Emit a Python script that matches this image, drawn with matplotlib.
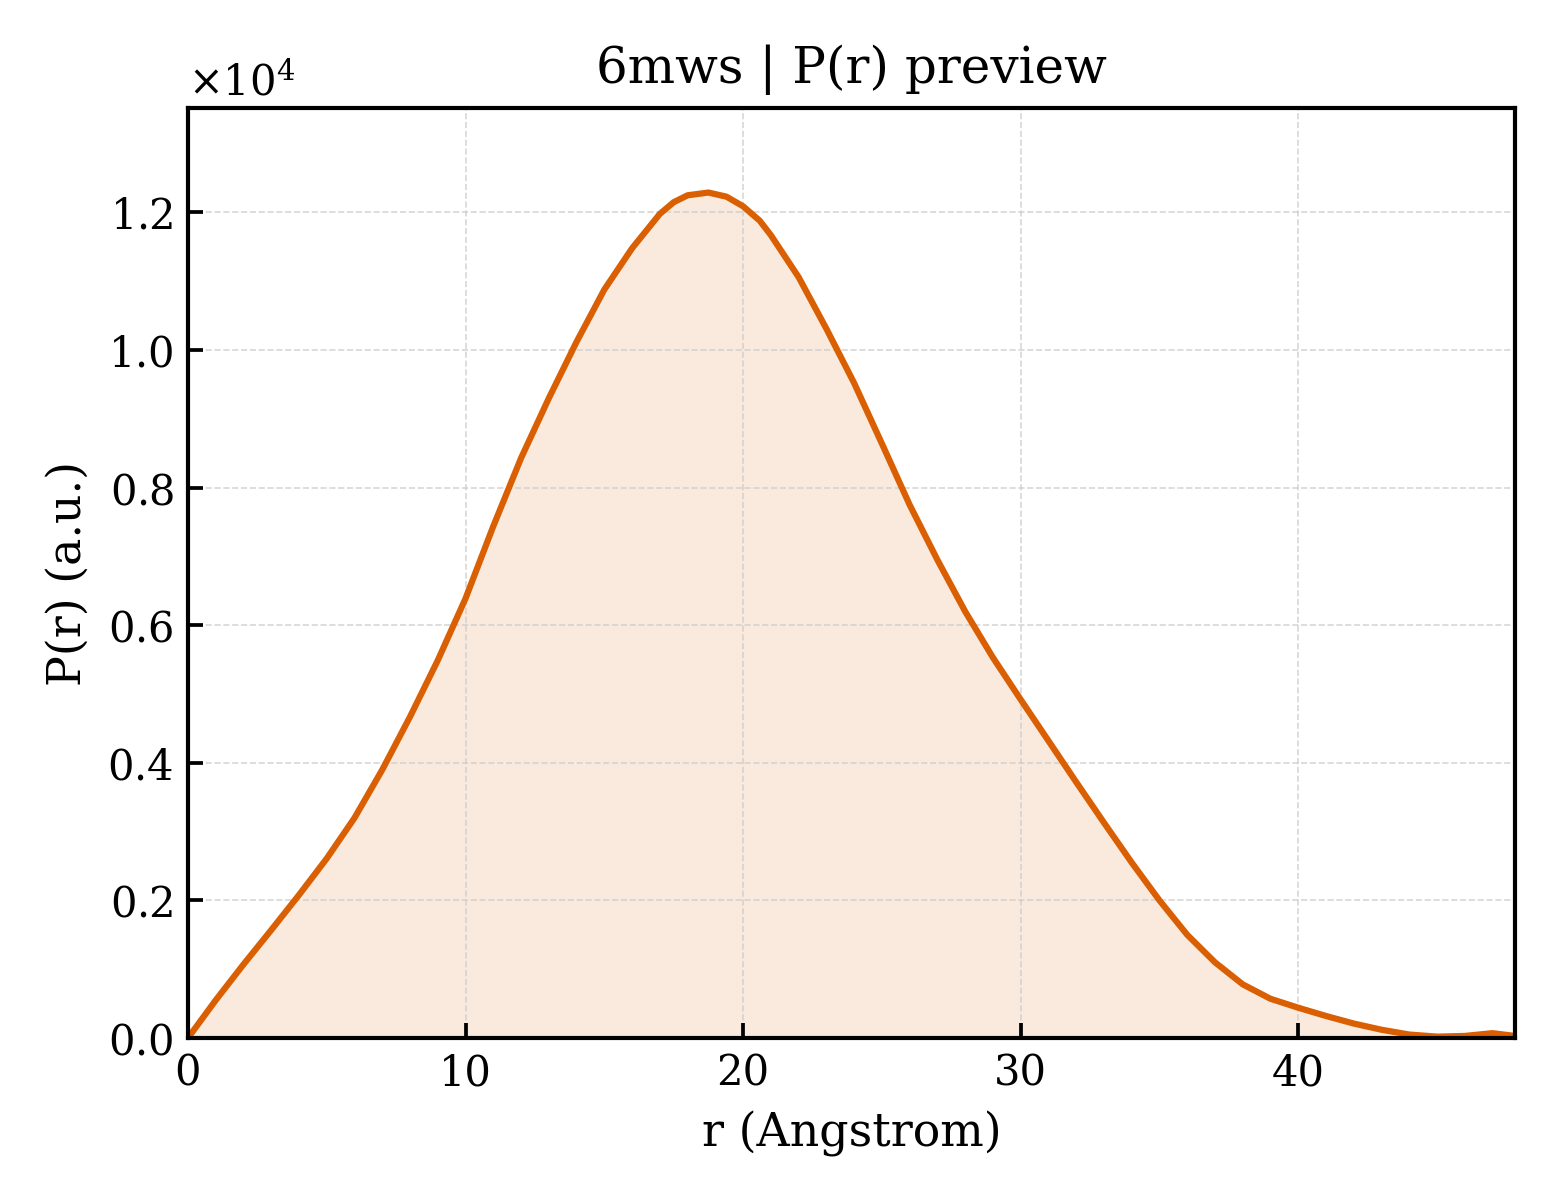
import matplotlib
matplotlib.use("Agg")
import matplotlib.pyplot as plt

plt.rcParams['font.family'] = ['DejaVu Serif']
plt.rcParams['mathtext.fontset'] = 'dejavuserif'

# P(r) (r in Angstrom, P in units of 1e4)
r = [0, 1, 2, 3, 4, 5, 6, 7, 8, 9, 10, 11, 12, 13, 14, 15, 16, 17, 17.5, 18,
     18.75, 19.4, 20, 20.6, 21, 22, 23, 24, 25, 26, 27, 28, 29, 30, 31, 32,
     33, 34, 35, 36, 37, 38, 39, 40, 41, 42, 43, 44, 45, 46, 47, 47.8]
pr = [0.0, 0.055, 0.107, 0.157, 0.208, 0.261, 0.320, 0.390, 0.467, 0.549,
      0.639, 0.744, 0.843, 0.930, 1.012, 1.088, 1.148, 1.198, 1.215, 1.225,
      1.229, 1.223, 1.209, 1.188, 1.167, 1.106, 1.031, 0.952, 0.864, 0.775,
      0.695, 0.620, 0.553, 0.492, 0.432, 0.372, 0.313, 0.255, 0.200, 0.150,
      0.110, 0.078, 0.057, 0.044, 0.032, 0.021, 0.012, 0.005, 0.002, 0.003,
      0.007, 0.003]
pr = [v * 1e4 for v in pr]

color = '#d95f02'

fig = plt.figure(figsize=(5.2, 4), dpi=300)
ax = fig.add_axes([0.1205, 0.135, 0.8505, 0.775])

ax.fill_between(r, pr, 0, color=color, alpha=0.13, linewidth=0)
ax.plot(r, pr, color=color, linewidth=1.5)

ax.set_xlim(0, 47.8)
ax.set_ylim(0, max(pr) * 1.1)
ax.ticklabel_format(axis='y', style='sci', scilimits=(0, 0), useMathText=True)

ax.set_xlabel('r (Angstrom)', fontsize=11)
ax.set_ylabel('P(r) (a.u.)', fontsize=11)
ax.set_title('6mws | P(r) preview', fontsize=12)

ax.tick_params(direction='in', length=3.5, width=0.9, labelsize=10)
ax.yaxis.get_offset_text().set_fontsize(10)
for s in ax.spines.values():
    s.set_linewidth(1.0)
ax.grid(True, linestyle='--', linewidth=0.4, color='#cccccc', alpha=0.8)

fig.savefig('out.png', dpi=300)
